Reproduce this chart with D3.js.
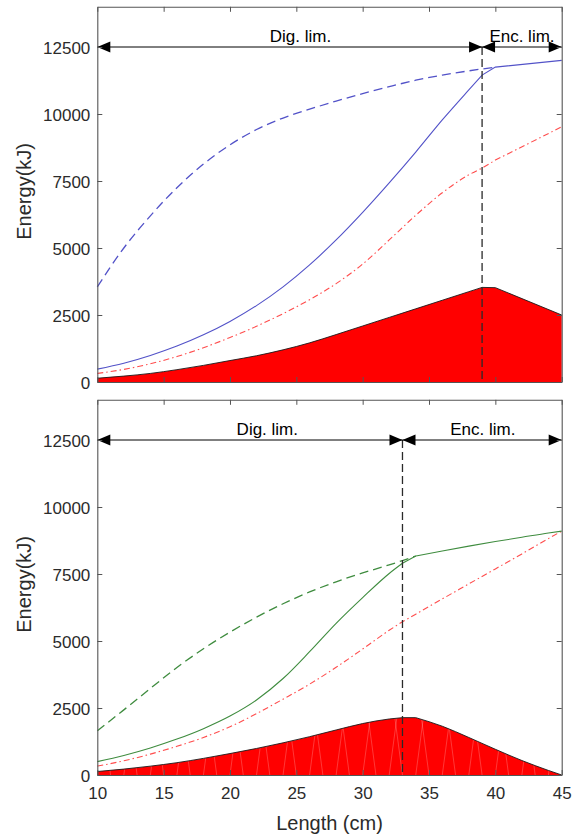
<!DOCTYPE html>
<html>
<head>
<meta charset="utf-8">
<script src="https://cdn.jsdelivr.net/npm/d3@7"></script>
<style>
  body { margin: 0; background: #fff; }
  text { font-family: "Liberation Sans", Arial, sans-serif; }
</style>
</head>
<body>
<script>
// ---------- data ----------
const xTicks = [10, 15, 20, 25, 30, 35, 40, 45];
const yTicks = [0, 2500, 5000, 7500, 10000, 12500];

// top panel (blue)
const topLength = [10, 12, 14, 16, 18, 20, 22, 24, 26, 28, 30, 32, 34, 36, 38, 39, 40, 45];
const topSolid  = [480, 700, 990, 1340, 1760, 2260, 2850, 3550, 4370, 5300, 6330, 7430, 8580, 9780, 10900, 11450, 11750, 12000];
const topDashed = [3550, 5000, 6200, 7250, 8130, 8850, 9420, 9850, 10180, 10480, 10760, 11020, 11260, 11450, 11610, 11680, 11750, null];
const topRed    = [320, 470, 680, 950, 1280, 1660, 2080, 2550, 3070, 3670, 4400, 5300, 6220, 7060, 7730, 7980, 8280, 9520];
const topFill   = [140, 220, 320, 460, 620, 800, 980, 1200, 1460, 1770, 2090, 2410, 2730, 3050, 3370, 3530, 3520, 2500];
const topLimit  = 39;
const topKink   = 40;

// bottom panel (green)
const botLength = [10, 12, 14, 16, 18, 20, 22, 24, 26, 28, 30, 32, 33, 34, 36, 38, 40, 42, 44, 45];
const botSolid  = [500, 730, 1010, 1340, 1730, 2200, 2800, 3600, 4600, 5660, 6620, 7520, 7900, 8170, 8360, 8540, 8710, 8870, 9030, 9100];
const botDashed = [1650, 2430, 3230, 4010, 4710, 5330, 5890, 6390, 6830, 7210, 7540, 7840, 8000, 8170, null, null, null, null, null, null];
const botRed    = [330, 530, 780, 1070, 1400, 1800, 2290, 2830, 3390, 4020, 4700, 5400, 5720, 6000, 6570, 7130, 7690, 8250, 8820, 9100];
const botFill   = [130, 220, 330, 460, 620, 800, 990, 1200, 1430, 1680, 1920, 2090, 2140, 2140, 1820, 1400, 960, 540, 170, 0];
const botLimit  = 33;
const botKink   = 34;

const arrowLabels = ["Dig. lim.", "Enc. lim."];
const yLabel = "Energy(kJ)";
const xLabel = "Length (cm)";

// ---------- drawing ----------
const W = 572, H = 835;
const svg = d3.select("body").append("svg").attr("width", W).attr("height", H);

const left = 97.3, right = 561.7;
const x = d3.scaleLinear().domain([10, 45]).range([left, right]);

const BLUE = "#5252c8", GREEN = "#3f8c3f", RED = "#ff4d4d";

function segPath(xs, vs, y, from, to, curve) {
  const pts = xs.map((d, i) => [d, vs[i]]).filter(p => p[1] != null && p[0] >= from && p[0] <= to);
  if (pts.length < 2) return "";
  return d3.line().x(p => x(p[0])).y(p => y(p[1])).curve(curve)(pts);
}
function fullPath(xs, vs, y, lim, kink, lastCurve) {
  const a = segPath(xs, vs, y, 10, lim, d3.curveMonotoneX);
  const b = segPath(xs, vs, y, lim, kink, d3.curveLinear);
  const c = segPath(xs, vs, y, kink, 45, lastCurve);
  return [a, b, c].filter(s => s).map((s, i) => i === 0 ? s : s.replace(/^M/, "L")).join("");
}

function panel(cfg) {
  const y = d3.scaleLinear().domain([0, 14000]).range([cfg.bottom, cfg.top]);
  const g = svg.append("g");

  // fill
  const topEdge = fullPath(cfg.xs, cfg.fill, y, cfg.lim, cfg.kink, cfg.lastCurve);
  const areaD = topEdge + `L${x(45)},${y(0)}L${x(10)},${y(0)}Z`;
  g.append("path").attr("d", areaD).attr("fill", "#ff0000").attr("stroke", "none");
  if (cfg.hatch) {
    // faint white rendering seams in the fill
    const clipId = "clip" + cfg.id;
    g.append("clipPath").attr("id", clipId).append("path").attr("d", areaD);
    const hg = g.append("g").attr("clip-path", `url(#${clipId})`);
    d3.range(10, 45, 1).forEach((v, i) => {
      hg.append("line")
        .attr("x1", x(v)).attr("y1", y(0))
        .attr("x2", x(v + (i % 2 ? -1 : 1) * 0.7)).attr("y2", y(2600))
        .attr("stroke", "#ffffff").attr("stroke-opacity", 0.28).attr("stroke-width", 0.8);
    });
  }
  g.append("path").attr("d", topEdge).attr("fill", "none")
    .attr("stroke", "#1a1a1a").attr("stroke-width", 0.9);

  // red dash-dot
  g.append("path").attr("d", fullPath(cfg.xs, cfg.red, y, cfg.lim, cfg.kink, d3.curveMonotoneX))
    .attr("fill", "none").attr("stroke", RED).attr("stroke-width", 1.1)
    .attr("stroke-dasharray", "6,3,1.5,3");
  // dashed
  g.append("path").attr("d", fullPath(cfg.xs, cfg.dashed, y, cfg.lim, cfg.kink, d3.curveMonotoneX))
    .attr("fill", "none").attr("stroke", cfg.color).attr("stroke-width", 1.3)
    .attr("stroke-dasharray", "9,5");
  // solid
  g.append("path").attr("d", fullPath(cfg.xs, cfg.solid, y, cfg.lim, cfg.kink, d3.curveMonotoneX))
    .attr("fill", "none").attr("stroke", cfg.color).attr("stroke-width", 1.1);

  // vertical dashed limit line
  g.append("line")
    .attr("x1", x(cfg.lim)).attr("x2", x(cfg.lim))
    .attr("y1", y(12500)).attr("y2", y(0))
    .attr("stroke", "#2a2a2a").attr("stroke-width", 1.3).attr("stroke-dasharray", "8,4");

  // arrows
  const ay = y(12500);
  const segs = [[10, cfg.lim], [cfg.lim, 45]];
  segs.forEach(([a, b]) => {
    g.append("line").attr("x1", x(a)).attr("x2", x(b)).attr("y1", ay).attr("y2", ay)
      .attr("stroke", "#000").attr("stroke-width", 1);
    const L = 13, hw = 5.5;
    g.append("path").attr("d", `M${x(a)},${ay}L${x(a) + L},${ay - hw}L${x(a) + L},${ay + hw}Z`).attr("fill", "#000");
    g.append("path").attr("d", `M${x(b)},${ay}L${x(b) - L},${ay - hw}L${x(b) - L},${ay + hw}Z`).attr("fill", "#000");
  });
  arrowLabels.forEach((t, i) => {
    g.append("text").attr("x", x(cfg.labelX[i])).attr("y", ay - 5.5)
      .attr("font-size", 17).attr("fill", "#000").text(t);
  });

  // axes (box with inward ticks)
  const tickCol = "#555";
  const ax = g.append("g").attr("transform", `translate(${left},0)`)
    .call(d3.axisLeft(y).tickValues(yTicks).tickFormat(d3.format("d")).tickSizeInner(-5).tickSizeOuter(0).tickPadding(7));
  ax.selectAll("text").attr("font-size", 17).attr("fill", "#2b2b2b").attr("dy", "0.4em");
  const ar = g.append("g").attr("transform", `translate(${right},0)`)
    .call(d3.axisRight(y).tickValues(yTicks).tickFormat("").tickSizeInner(-5).tickSizeOuter(0));
  const at = g.append("g").attr("transform", `translate(0,${cfg.top})`)
    .call(d3.axisTop(x).tickValues(xTicks).tickFormat("").tickSizeInner(-5).tickSizeOuter(0));
  const ab = g.append("g").attr("transform", `translate(0,${cfg.bottom})`)
    .call(d3.axisBottom(x).tickValues(xTicks).tickFormat(cfg.xLabels ? d3.format("d") : "").tickSizeInner(-5).tickSizeOuter(0).tickPadding(9));
  ab.selectAll("text").attr("font-size", 17).attr("fill", "#2b2b2b").attr("dy", "0.9em");
  [ax, ar, at, ab].forEach(a => {
    a.select(".domain").attr("stroke", tickCol).attr("stroke-width", 1.1);
    a.selectAll(".tick line").attr("stroke", tickCol);
    a.attr("font-family", null);
  });

  g.append("text")
    .attr("transform", `translate(${24},${(cfg.top + cfg.bottom) / 2 - 3}) rotate(-90)`)
    .attr("text-anchor", "middle").attr("dominant-baseline", "central")
    .attr("font-size", 20).attr("fill", "#2b2b2b").text(yLabel);
}

panel({ id: "a", top: 6.8, bottom: 382, xs: topLength, solid: topSolid, dashed: topDashed, red: topRed, fill: topFill,
        lim: topLimit, kink: topKink, lastCurve: d3.curveLinear, color: BLUE, labelX: [23.0, 39.55], xLabels: false, hatch: false });
panel({ id: "b", top: 399.8, bottom: 775, xs: botLength, solid: botSolid, dashed: botDashed, red: botRed, fill: botFill,
        lim: botLimit, kink: botKink, lastCurve: d3.curveMonotoneX, color: GREEN, labelX: [20.5, 36.6], xLabels: true, hatch: true });

svg.append("text").attr("x", (left + right) / 2).attr("y", 830)
  .attr("text-anchor", "middle").attr("font-size", 20).attr("fill", "#2b2b2b").text(xLabel);
</script>
</body>
</html>
